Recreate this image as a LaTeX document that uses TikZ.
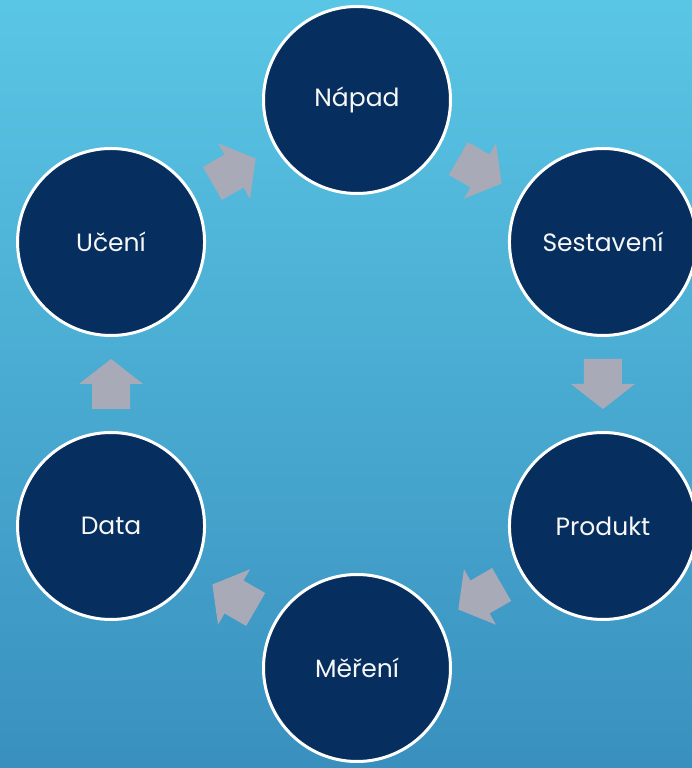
\documentclass[tikz,border=0pt]{standalone}
\usepackage{fontspec}
\setmainfont{Poppins}
\usetikzlibrary{calc}
\definecolor{bgtop}{HTML}{5AC6E5}
\definecolor{bgbottom}{HTML}{3990BE}
\definecolor{navy}{HTML}{062F5F}
\definecolor{arrowgray}{HTML}{A8AAB7}
\tikzset{
	stage/.style={circle,draw=white,line width=3pt,fill=navy,minimum size=187pt,inner sep=0pt,text=white!94!gray,font=\fontsize{25}{30}\selectfont},
	blockarrow/.pic={\fill[arrowgray](-25,-19)--(0,-19)--(0,-32)--(25,0)--(0,32)--(0,19)--(-25,19)--cycle;}
}
\begin{document}
\begin{tikzpicture}[x=1pt,y=1pt]
	
	\shade[top color=bgtop,bottom color=bgbottom](0,0) rectangle (692,768);
	\useasboundingbox(0,0) rectangle (692,768);
	
	\coordinate (c) at (357,384);
	\node[stage] (napad) at ($(c)+(90:284)$) {Nápad};
	\node[stage] (sestaveni) at ($(c)+(30:284)$) {Sestavení};
	\node[stage] (produkt) at ($(c)+(-30:284)$) {Produkt};
	\node[stage] (mereni) at ($(c)+(-90:284)$) {Měření};
	\node[stage] (data) at ($(c)+(-150:284)$) {Data};
	\node[stage] (uceni) at ($(c)+(150:284)$) {Učení};
	
	\foreach \a/\b/\ang in {napad/sestaveni/-30,sestaveni/produkt/-90,produkt/mereni/-150,mereni/data/150,data/uceni/90,uceni/napad/30}
		\pic[rotate=\ang] at ($(\a)!0.5!(\b)$) {blockarrow};
	
\end{tikzpicture}
\end{document}
